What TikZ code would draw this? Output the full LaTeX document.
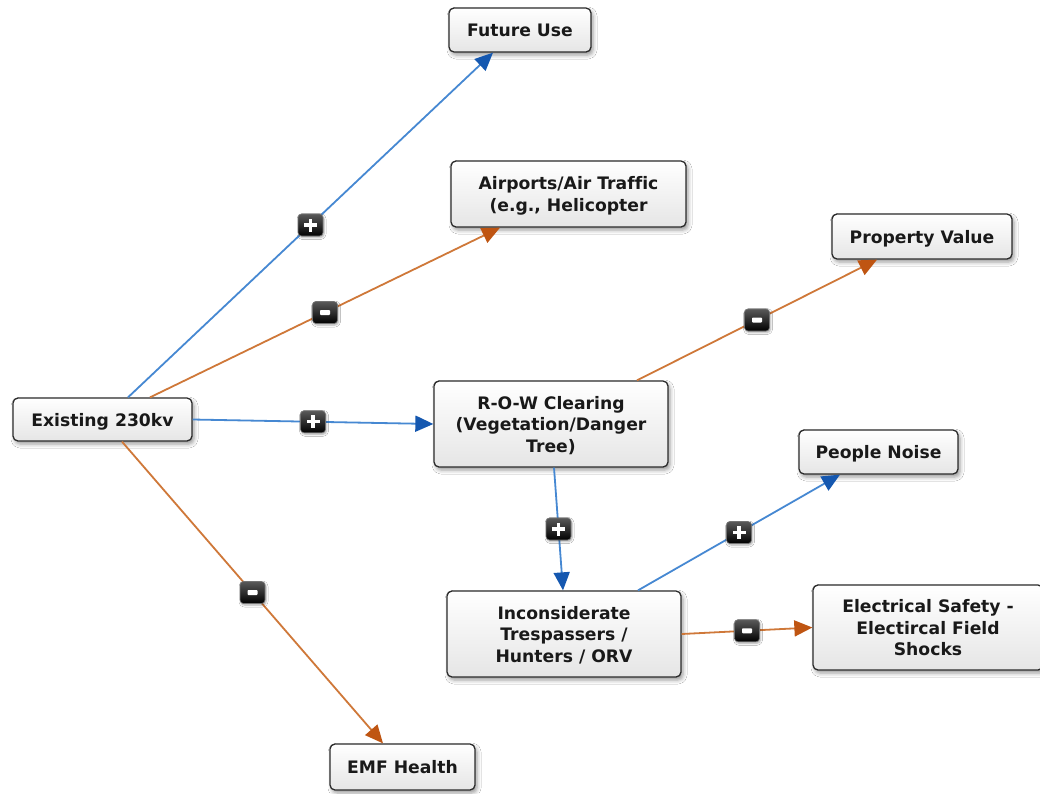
\documentclass[tikz,border=0pt]{standalone}
\usepackage{fontspec}
\setmainfont{DejaVu Sans}[Ligatures=NoCommon]
\usetikzlibrary{arrows.meta,shadows.blur,calc}

\definecolor{posline}{HTML}{4688D2}
\definecolor{poshead}{HTML}{1558B0}
\definecolor{negline}{HTML}{CF7839}
\definecolor{neghead}{HTML}{BF5512}
\definecolor{boxline}{HTML}{2B2B2B}

\tikzset{
  box/.style={draw=boxline, line width=1.3pt, rounded corners=5pt,
    top color=white, bottom color=black!10, align=center, inner sep=0pt,
    font=\fontsize{17.2}{21.5}\selectfont\bfseries, text=black!90,
    text depth=-3.5pt,
    blur shadow={shadow xshift=2pt, shadow yshift=-3pt,
      shadow blur radius=4pt, shadow opacity=40}},
  link/.style={line width=1.8pt},
  poslink/.style={link, draw=posline,
    -{Triangle[length=18pt,width=16pt,color=poshead]}},
  neglink/.style={link, draw=negline,
    -{Triangle[length=18pt,width=16pt,color=neghead]}},
  badge/.style={rounded corners=3.5pt, minimum width=25pt, minimum height=22pt,
    inner sep=0pt, top color=black!65, bottom color=black, draw=black!55,
    line width=0.6pt,
    blur shadow={shadow xshift=1pt, shadow yshift=-1.5pt,
      shadow blur radius=2pt, shadow opacity=35}},
  plusbadge/.style={badge, path picture={
    \fill[white, sharp corners] ($(path picture bounding box.center)+(-6.5,-1.7)$) rectangle ++(13,3.4);
    \fill[white, sharp corners] ($(path picture bounding box.center)+(-1.7,-6.5)$) rectangle ++(3.4,13);}},
  minusbadge/.style={badge, path picture={
    \fill[white, rounded corners=0.8pt]
      ($(path picture bounding box.center)+(-5,-2.5)$) rectangle ++(10,5);}}
}

\begin{document}
\begin{tikzpicture}[x=1pt, y=-1pt]
\useasboundingbox (0,0) rectangle (1040,793);
\clip (0,0) rectangle (1040,793);
\fill[white] (0,0) rectangle (1040,793);

% concept boxes
\node[box, minimum width=179pt, minimum height=43pt] (ex) at (102.5,419.5) {Existing 230kv};
\node[box, minimum width=142pt, minimum height=44pt] (fu) at (520,30) {Future Use};
\node[box, minimum width=235pt, minimum height=66pt] (ap) at (568.5,194) {Airports/Air Traffic\\(e.g., Helicopter};
\node[box, minimum width=180pt, minimum height=45pt] (pv) at (922,236.5) {Property Value};
\node[box, minimum width=234pt, minimum height=86pt] (row) at (551,424) {R-O-W Clearing\\(Vegetation/Danger\\Tree)};
\node[box, minimum width=159pt, minimum height=44pt] (pn) at (878.5,452) {People Noise};
\node[box, minimum width=234pt, minimum height=86pt] (ic) at (564,634) {Inconsiderate\\Trespassers /\\Hunters / ORV};
\node[box, minimum width=230pt, minimum height=85pt] (el) at (928,627.5) {Electrical Safety -\\Electircal Field\\Shocks};
\node[box, minimum width=145pt, minimum height=46pt] (emf) at (402.5,767) {EMF Health};

% influence links
\draw[poslink] ([xshift=25.5pt]ex.north) -- node[plusbadge] (b1) {} ([xshift=-27pt]fu.south);
\draw[neglink] ([xshift=47.5pt]ex.north) -- node[minusbadge] (b2) {} ([xshift=-68.5pt]ap.south);
\draw[poslink] (ex.east) -- node[plusbadge] (b3) {} (row.west);
\draw[neglink] ([xshift=19.5pt]ex.south) -- node[minusbadge] (b4) {} ([xshift=-19.5pt]emf.north);
\draw[neglink] ([xshift=86pt]row.north) -- node[minusbadge] (b5) {} ([xshift=-45pt]pv.south);
\draw[poslink] ([xshift=3pt]row.south) -- node[plusbadge] (b6) {} ([xshift=-1pt]ic.north);
\draw[poslink] ([xshift=74pt]ic.north) -- node[plusbadge] (b7) {} ([xshift=-38.5pt]pn.south);
\draw[neglink] (ic.east) -- node[minusbadge] (b8) {} (el.west);
\end{tikzpicture}
\end{document}
